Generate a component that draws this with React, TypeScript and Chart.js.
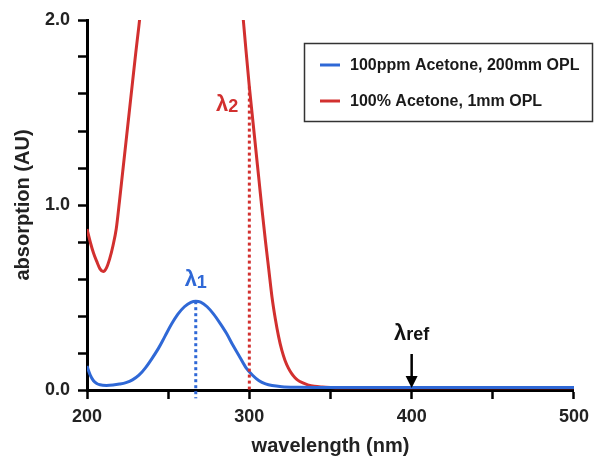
import React, { useEffect, useRef } from 'react';
import { Chart, registerables } from 'chart.js';

Chart.register(...registerables);

// ---- data ----
const blueNm = [200, 202, 204, 206, 208, 212, 216, 220, 224, 228, 232, 236, 240, 244, 248, 252, 256, 260, 264, 267, 270, 274, 278, 282, 286, 290, 294, 298, 302, 306, 310, 314, 320, 330, 350, 400, 450, 500];
const blueAbs = [0.13, 0.08, 0.05, 0.035, 0.028, 0.025, 0.027, 0.032, 0.04, 0.055, 0.08, 0.12, 0.17, 0.225, 0.29, 0.355, 0.41, 0.45, 0.474, 0.48, 0.475, 0.45, 0.41, 0.36, 0.305, 0.24, 0.18, 0.12, 0.08, 0.05, 0.033, 0.024, 0.018, 0.015, 0.013, 0.013, 0.013, 0.013];

const redNm = [200, 202, 204, 206, 208, 210, 212, 214, 216, 218, 220, 222, 224, 226, 228, 230, 232, 233, 264, 296, 298, 300, 302, 304, 306, 308, 310, 312, 314, 316, 318, 320, 322, 324, 326, 328, 330, 333, 336, 340, 345, 350, 360, 400, 450, 500];
const redAbs = [0.87, 0.8, 0.74, 0.695, 0.655, 0.64, 0.66, 0.71, 0.78, 0.87, 1.02, 1.18, 1.34, 1.5, 1.66, 1.82, 1.97, 2.05, null, 2.03, 1.83, 1.64, 1.47, 1.3, 1.13, 0.96, 0.8, 0.65, 0.5, 0.385, 0.29, 0.215, 0.16, 0.12, 0.09, 0.068, 0.052, 0.038, 0.028, 0.02, 0.016, 0.014, 0.012, 0.012, 0.012, 0.012];

const seriesLabels = ['100ppm Acetone, 200mm OPL', '100% Acetone, 1mm OPL'];
const xTickLabels = [200, 300, 400, 500];
const yTickLabels = [0, 1, 2];

// markers: [wavelength, absorbance top, absorbance bottom]
const lambda1Marker = [267, 0.48, -0.045];
const lambda2Marker = [300, 1.64, 0];
const lambdaRefNm = [400];

const BLUE = '#2f68d6';
const RED = '#d2302f';
const FONT = "'Liberation Sans', Arial, Helvetica, sans-serif";

function toPoints(xs: number[], ys: (number | null)[]) {
  return xs.map((x, i) => ({ x, y: ys[i] }));
}

const annotationPlugin = {
  id: 'annotations',
  afterDatasetsDraw(chart: any) {
    const { ctx } = chart;
    const x = chart.scales.x;
    const y = chart.scales.y;
    ctx.save();
    const drawLambda = (label: string, sub: string, cx: number, cy: number, color: string, align: 'center' | 'right', subSize: number, subShift: number) => {
      ctx.fillStyle = color;
      ctx.textBaseline = 'middle';
      ctx.textAlign = 'left';
      ctx.font = `bold 22px ${FONT}`;
      const w1 = ctx.measureText(label).width;
      ctx.font = `bold ${subSize}px ${FONT}`;
      const w2 = ctx.measureText(sub).width;
      const total = w1 + w2;
      const start = align === 'center' ? cx - total / 2 : cx - total;
      ctx.font = `bold 22px ${FONT}`;
      ctx.fillText(label, start, cy);
      ctx.font = `bold ${subSize}px ${FONT}`;
      ctx.fillText(sub, start + w1, cy + subShift);
    };
    // lambda 1
    drawLambda('λ', '1', x.getPixelForValue(lambda1Marker[0]), y.getPixelForValue(lambda1Marker[1]) - 21, BLUE, 'center', 18, 3);
    // lambda 2
    drawLambda('λ', '2', x.getPixelForValue(lambda2Marker[0]) - 11, y.getPixelForValue(lambda2Marker[1]) + 18, RED, 'right', 18, 2);
    // lambda ref
    const rx = x.getPixelForValue(lambdaRefNm[0]);
    const y0 = y.getPixelForValue(0);
    drawLambda('λ', 'ref', rx, y0 - 56, '#111', 'center', 18, 1);
    // arrow
    ctx.strokeStyle = '#000';
    ctx.fillStyle = '#000';
    ctx.lineWidth = 2.5;
    ctx.beginPath();
    ctx.moveTo(rx, y0 - 36);
    ctx.lineTo(rx, y0 - 10);
    ctx.stroke();
    ctx.beginPath();
    ctx.moveTo(rx - 6, y0 - 14);
    ctx.lineTo(rx + 6, y0 - 14);
    ctx.lineTo(rx, y0 - 2);
    ctx.closePath();
    ctx.fill();
    ctx.restore();
  },
  afterDraw(chart: any) {
    const { ctx } = chart;
    ctx.save();
    // legend box
    ctx.strokeStyle = '#333';
    ctx.lineWidth = 1.5;
    ctx.strokeRect(304.5, 43.5, 288, 78);
    const colors = [BLUE, RED];
    const rows = [65, 101];
    seriesLabels.forEach((lab, i) => {
      ctx.strokeStyle = colors[i];
      ctx.lineWidth = 3;
      ctx.beginPath();
      ctx.moveTo(320, rows[i]);
      ctx.lineTo(340, rows[i]);
      ctx.stroke();
      ctx.fillStyle = '#1a1a1a';
      ctx.font = `bold 16px ${FONT}`;
      ctx.textAlign = 'left';
      ctx.textBaseline = 'middle';
      ctx.fillText(lab, 350, rows[i] + 1);
    });
    ctx.restore();
  },
};

export default function App() {
  const canvasRef = useRef<HTMLCanvasElement | null>(null);

  useEffect(() => {
    if (!canvasRef.current) return;
    const chart = new Chart(canvasRef.current, {
      type: 'line',
      data: {
        datasets: [
          {
            label: seriesLabels[0],
            data: toPoints(blueNm, blueAbs),
            borderColor: BLUE,
            borderWidth: 3,
            pointRadius: 0,
            cubicInterpolationMode: 'monotone',
            order: 1,
          } as any,
          {
            label: seriesLabels[1],
            data: toPoints(redNm, redAbs),
            borderColor: RED,
            borderWidth: 3,
            pointRadius: 0,
            cubicInterpolationMode: 'monotone',
            spanGaps: false,
            order: 2,
          } as any,
          {
            label: 'lambda1',
            data: [
              { x: lambda1Marker[0], y: lambda1Marker[1] },
              { x: lambda1Marker[0], y: lambda1Marker[2] },
            ],
            borderColor: BLUE,
            borderWidth: 3,
            borderDash: [3, 3],
            pointRadius: 0,
            clip: false,
            order: 0,
          } as any,
          {
            label: 'lambda2',
            data: [
              { x: lambda2Marker[0], y: lambda2Marker[1] },
              { x: lambda2Marker[0], y: lambda2Marker[2] },
            ],
            borderColor: RED,
            borderWidth: 3,
            borderDash: [3, 3],
            pointRadius: 0,
            clip: false,
            order: 0,
          } as any,
        ],
      },
      options: {
        animation: false,
        responsive: false,
        maintainAspectRatio: false,
        layout: { padding: { left: 0, top: 20, right: 17, bottom: 0 } },
        plugins: { legend: { display: false }, tooltip: { enabled: false } },
        scales: {
          x: {
            type: 'linear',
            min: 200,
            max: 500,
            afterFit: (s: any) => {
              s.height = 66;
            },
            ticks: {
              stepSize: 50,
              autoSkip: false,
              maxRotation: 0,
              padding: 7,
              color: '#222',
              font: { family: FONT, size: 18, weight: 'bold' },
              callback: (v: any) => (xTickLabels.includes(Number(v)) ? String(v) : ''),
            },
            grid: {
              drawOnChartArea: false,
              drawTicks: true,
              tickLength: 9,
              tickWidth: 2.5,
              tickColor: '#000',
            },
            border: { display: true, color: '#000', width: 3 },
            title: {
              display: true,
              text: 'wavelength (nm)',
              color: '#222',
              font: { family: FONT, size: 20, weight: 'bold', lineHeight: 1 },
              padding: { top: 0, bottom: 0 },
            },
          },
          y: {
            type: 'linear',
            min: 0,
            max: 2,
            afterFit: (s: any) => {
              s.width = 87;
            },
            ticks: {
              stepSize: 0.2,
              autoSkip: false,
              padding: 8,
              color: '#222',
              font: { family: FONT, size: 18, weight: 'bold' },
              callback: (v: any) => {
                const n = Number(v);
                const hit = yTickLabels.find((t) => Math.abs(t - n) < 1e-6);
                return hit === undefined ? '' : hit.toFixed(1);
              },
            },
            grid: {
              drawOnChartArea: false,
              drawTicks: true,
              tickLength: 9,
              tickWidth: 2.5,
              tickColor: '#000',
            },
            border: { display: true, color: '#000', width: 3 },
            title: {
              display: true,
              text: 'absorption (AU)',
              color: '#222',
              font: { family: FONT, size: 20, weight: 'bold', lineHeight: 1.2 },
              padding: { top: 11, bottom: 0 },
            },
          },
        },
      } as any,
      plugins: [annotationPlugin],
    });
    return () => chart.destroy();
  }, []);

  return (
    <div style={{ position: 'absolute', left: 0, top: 0, width: 596, height: 456, background: '#fff' }}>
      <canvas ref={canvasRef} width={596} height={456} style={{ width: 596, height: 456, display: 'block' }} />
    </div>
  );
}
